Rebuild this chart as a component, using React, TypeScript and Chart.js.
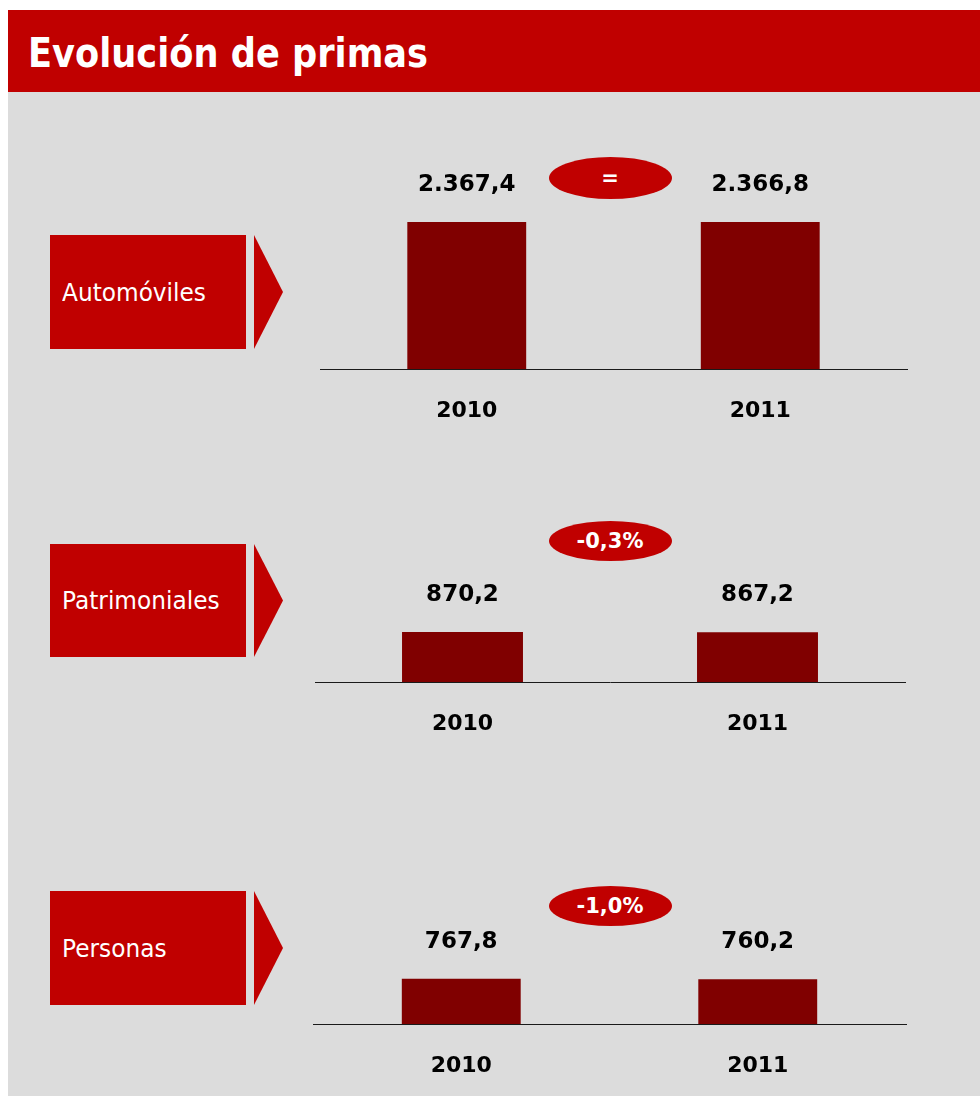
import React, { useEffect, useRef } from 'react';
import { Chart, registerables } from 'chart.js';

Chart.register(...registerables);

const title = 'Evolución de primas';
const categories = ['2010', '2011'];
const automovilesValues = [2367.4, 2366.8];
const patrimonialesValues = [870.2, 867.2];
const personasValues = [767.8, 760.2];
const sectionLabels = ['Automóviles', 'Patrimoniales', 'Personas'];
const changeLabels = ['=', '-0,3%', '-1,0%'];

const RED = '#C00000';
const BAR = '#800000';
const BG = '#DCDCDC';
const FONT = '"DejaVu Sans", Verdana, sans-serif';

function formatEs(v: number): string {
  const [intPart, dec] = v.toFixed(1).split('.');
  const grouped = intPart.replace(/\B(?=(\d{3})+(?!\d))/g, '.');
  return grouped + ',' + dec;
}

type BarProps = {
  values: number[];
  yMax: number;
  left: number;
  top: number;
  width: number;
  height: number;
  padLeft: number;
  padRight: number;
  barPct: number;
};

function BarChart({ values, yMax, left, top, width, height, padLeft, padRight, barPct }: BarProps) {
  const ref = useRef<HTMLCanvasElement>(null);
  useEffect(() => {
    if (!ref.current) return;
    const valueLabels = {
      id: 'valueLabels',
      afterDatasetsDraw(chart: any) {
        const ctx = chart.ctx;
        const meta = chart.getDatasetMeta(0);
        ctx.save();
        ctx.font = 'bold 23px "DejaVu Sans"';
        ctx.fillStyle = '#000';
        ctx.textAlign = 'center';
        ctx.textBaseline = 'middle';
        meta.data.forEach((bar: any, i: number) => {
          ctx.fillText(formatEs(values[i]), bar.x, bar.y - 37);
        });
        ctx.restore();
      },
    };
    const chart = new Chart(ref.current, {
      type: 'bar',
      data: {
        labels: categories,
        datasets: [
          {
            data: values,
            backgroundColor: BAR,
            borderWidth: 0,
            categoryPercentage: 1,
            barPercentage: barPct,
          },
        ],
      },
      options: {
        animation: false,
        responsive: false,
        events: [],
        layout: { padding: { left: padLeft, right: padRight, top: 0, bottom: 0 } },
        plugins: { legend: { display: false }, tooltip: { enabled: false } },
        scales: {
          x: {
            grid: { display: false, drawTicks: false },
            border: { display: true, color: '#1a1a1a', width: 1 },
            ticks: {
              color: '#000',
              font: { family: 'DejaVu Sans', size: 22, weight: 'bold' },
              padding: 28.8,
            },
          },
          y: { display: false, min: 0, max: yMax },
        },
      },
      plugins: [valueLabels],
    } as any);
    return () => chart.destroy();
  }, []);
  return (
    <canvas
      ref={ref}
      width={width}
      height={height}
      style={{ position: 'absolute', left, top, width, height }}
    />
  );
}

function LabelBox({ text, top, height }: { text: string; top: number; height: number }) {
  return (
    <>
      <div
        style={{
          position: 'absolute',
          left: 42,
          top,
          width: 196,
          height,
          background: RED,
          display: 'flex',
          alignItems: 'center',
          paddingLeft: 12,
          boxSizing: 'border-box',
        }}
      >
        <span
          style={{
            color: '#fff',
            fontSize: 25,
            fontFamily: FONT,
            whiteSpace: 'nowrap',
            display: 'inline-block',
            transform: 'scaleX(0.93)',
            transformOrigin: 'left center',
          }}
        >
          {text}
        </span>
      </div>
      <div
        style={{
          position: 'absolute',
          left: 246,
          top,
          width: 29,
          height,
          background: RED,
          clipPath: 'polygon(0 0, 100% 50%, 0 100%)',
        }}
      />
    </>
  );
}

function Pill({ text, top, height }: { text: string; top: number; height: number }) {
  return (
    <div
      style={{
        position: 'absolute',
        left: 540.5,
        top,
        width: 123,
        height,
        borderRadius: '50%',
        background: RED,
        color: '#fff',
        fontFamily: FONT,
        fontWeight: 'bold',
        fontSize: 21,
        display: 'flex',
        alignItems: 'center',
        justifyContent: 'center',
      }}
    >
      {text}
    </div>
  );
}

export default function App() {
  useEffect(() => {
    document.documentElement.style.overflow = 'hidden';
  }, []);
  return (
    <div
      style={{
        position: 'fixed',
        left: 8,
        top: 10,
        width: 972,
        height: 1086,
        background: BG,
        fontFamily: FONT,
      }}
    >
      <div style={{ position: 'absolute', left: 0, top: 0, width: 972, height: 82, background: RED }}>
        <span
          style={{
            position: 'absolute',
            left: 20,
            top: 20,
            fontSize: 40,
            fontWeight: 'bold',
            color: '#fff',
            whiteSpace: 'nowrap',
            transform: 'scaleX(0.88)',
            transformOrigin: 'left top',
            fontFamily: FONT,
          }}
        >
          {title}
        </span>
      </div>

      <LabelBox text={sectionLabels[0]} top={225} height={114} />
      <LabelBox text={sectionLabels[1]} top={534} height={113} />
      <LabelBox text={sectionLabels[2]} top={881} height={114} />

      <BarChart values={automovilesValues} yMax={3527} left={292} top={140} width={630} height={303} padLeft={20} padRight={23} barPct={0.405} />
      <BarChart values={patrimonialesValues} yMax={2122} left={287} top={550} width={635} height={206} padLeft={20} padRight={25} barPct={0.41} />
      <BarChart values={personasValues} yMax={2102} left={285} top={890} width={637} height={208} padLeft={20} padRight={24} barPct={0.401} />

      <Pill text={changeLabels[0]} top={147} height={42} />
      <Pill text={changeLabels[1]} top={511} height={40} />
      <Pill text={changeLabels[2]} top={876} height={40} />
    </div>
  );
}
